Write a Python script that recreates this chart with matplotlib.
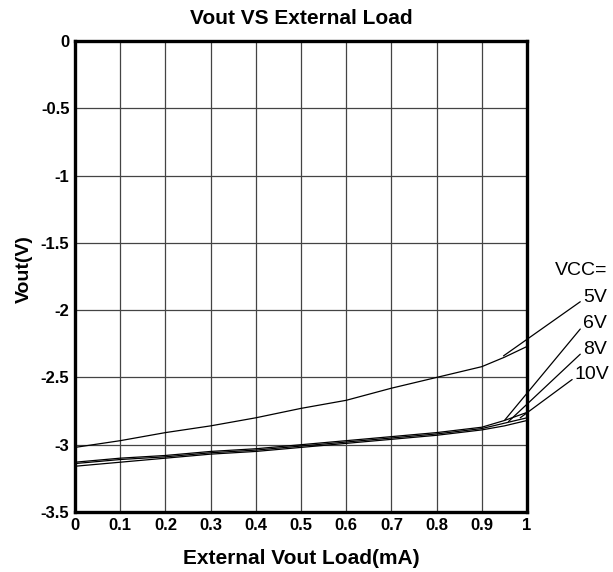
import matplotlib.pyplot as plt
import numpy as np

plt.rcParams['font.family'] = ['Liberation Sans', 'DejaVu Sans']

load = [0, 0.1, 0.2, 0.3, 0.4, 0.5, 0.6, 0.7, 0.8, 0.9, 0.95, 1.0]
v5 = [-3.02, -2.97, -2.91, -2.86, -2.80, -2.73, -2.67, -2.58, -2.50, -2.42, -2.35, -2.27]
v6 = [-3.13, -3.10, -3.08, -3.05, -3.03, -3.00, -2.97, -2.94, -2.91, -2.87, -2.82, -2.76]
v8 = [-3.14, -3.11, -3.09, -3.06, -3.04, -3.01, -2.98, -2.95, -2.92, -2.88, -2.84, -2.80]
v10 = [-3.16, -3.13, -3.10, -3.07, -3.05, -3.02, -2.99, -2.96, -2.93, -2.89, -2.86, -2.82]

labels = ['5V', '6V', '8V', '10V']
# point on each curve where the leader line lands
lead_x = [0.948, 0.951, 0.959, 0.985]
lead_y = [-2.34, -2.816, -2.828, -2.80]

fig = plt.figure(figsize=(6.13, 5.72), dpi=100)
ax = fig.add_axes([75/613, 60/572, 452/613, 471/572])

for v in [v5, v6, v8, v10]:
    ax.plot(load, v, color='black', lw=0.9)

ax.set_xlim(0, 1)
ax.set_ylim(-3.5, 0)
ax.set_xticks(np.arange(0, 1.01, 0.1))
ax.set_xticklabels(['0', '0.1', '0.2', '0.3', '0.4', '0.5', '0.6', '0.7', '0.8', '0.9', '1'])
ax.set_yticks(np.arange(-3.5, 0.01, 0.5))
ax.set_yticklabels(['-3.5', '-3', '-2.5', '-2', '-1.5', '-1', '-0.5', '0'])
ax.tick_params(length=0, pad=4, labelsize=12)
for t in ax.get_xticklabels() + ax.get_yticklabels():
    t.set_fontweight('bold')
ax.grid(True, color='#444444', lw=0.9)
for s in ax.spines.values():
    s.set_linewidth(2.4)

ax.set_title('Vout VS External Load', fontsize=15, fontweight='bold', pad=12)
ax.set_xlabel('External Vout Load(mA)', fontsize=15, fontweight='bold', labelpad=12)
ax.set_ylabel('Vout(V)', fontsize=14, fontweight='bold')
ax.yaxis.set_label_coords(-0.093, 0.516)

ax.text(1.119, 0.512, 'VCC=', transform=ax.transAxes, fontsize=14, ha='center', va='center')
text_pos = [(1.124, 0.456), (1.124, 0.401), (1.124, 0.346), (1.106, 0.291)]
for lab, (tx, ty), px, py in zip(labels, text_pos, lead_x, lead_y):
    ax.annotate(lab, xy=(px, py), xycoords='data', xytext=(tx, ty),
                textcoords='axes fraction', fontsize=14, ha='left', va='center',
                arrowprops=dict(arrowstyle='-', color='black', lw=0.9,
                                shrinkA=0, shrinkB=0, relpos=(0, 0.35)))

fig.savefig('out.png', dpi=100)
